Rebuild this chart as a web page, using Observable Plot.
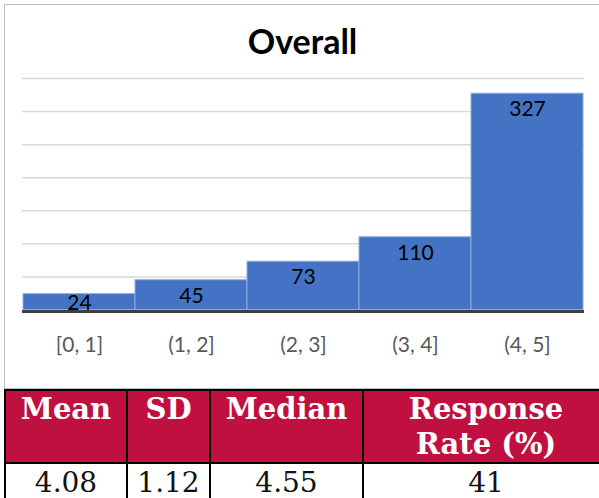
<!DOCTYPE html>
<html><head><meta charset="utf-8">
<script src="https://cdn.jsdelivr.net/npm/d3@7"></script>
<script src="https://cdn.jsdelivr.net/npm/@observablehq/plot@0.6"></script>
<style>
html,body{margin:0;padding:0;background:#fff;overflow:hidden;width:599px;height:498px;position:relative;}
#box{position:absolute;left:4px;top:4px;width:700px;height:383px;border:1px solid #bfbfbf;border-right:none;}
#title{position:absolute;left:0;width:605px;top:24px;text-align:center;font:bold 34px/34px Lato, "Open Sans", sans-serif;color:#000;}
#chart{position:absolute;left:0;top:0;}
#stats{position:absolute;left:4px;top:389px;border-collapse:collapse;table-layout:fixed;width:604px;font-family:Georgia,"DejaVu Serif",serif;}
#stats td{border:2px solid #000;text-align:center;padding:0;}
#stats tr.h td{background:#C0103F;color:#fff;font-weight:bold;font-size:29px;line-height:35px;height:70px;vertical-align:top;white-space:pre-line;padding-top:1px;}
#stats tr.v td{background:#fff;color:#111;font-size:28px;line-height:32px;height:40px;vertical-align:top;padding-top:3px;}
</style>
</head><body>
<div id="box"></div>
<div id="chart"></div>
<div id="title">Overall</div>
<table id="stats"><colgroup><col style="width:122px"><col style="width:83px"><col style="width:153px"><col style="width:246px"></colgroup>
<tbody><tr class="h" id="hrow"></tr><tr class="v" id="vrow"></tr></tbody></table>
<script>
const bins = ["[0, 1]", "(1, 2]", "(2, 3]", "(3, 4]", "(4, 5]"];
const counts = [24, 45, 73, 110, 327];
const gridTicks = [50, 100, 150, 200, 250, 300, 350];
const statLabels = ["Mean", "SD", "Median", "Response\nRate (%)"];
const statValues = ["4.08", "1.12", "4.55", "41"];

const data = bins.map((b, i) => ({bin: b, count: counts[i]}));

const chart = Plot.plot({
  width: 599,
  height: 388,
  marginLeft: 22,
  marginRight: 15,
  marginTop: 78,
  marginBottom: 78.5,
  style: {fontFamily: "Lato, 'Open Sans', sans-serif", fontSize: "21px", color: "#595959", background: "transparent"},
  x: {domain: bins, padding: 0, label: null, tickSize: 0, tickPadding: 27},
  y: {domain: [0, 350], axis: null},
  marks: [
    Plot.gridY(gridTicks, {stroke: "#d9d9d9", strokeOpacity: 1, strokeWidth: 1.5}),
    Plot.barY(data, {x: "bin", y: "count", fill: "#4472C4", stroke: "#8faadc", strokeWidth: 1}),
    Plot.ruleY([0], {stroke: "#404040", strokeWidth: 3, dy: 1.5}),
    Plot.text(data.filter(d => d.count >= 40), {x: "bin", y: "count", text: d => String(d.count), dy: 16, fontSize: 21, fill: "#000", lineAnchor: "middle"}),
    Plot.text(data.filter(d => d.count < 40), {x: "bin", y: 0, text: d => String(d.count), dy: -7, fontSize: 21, fill: "#000", lineAnchor: "middle"})
  ]
});
document.getElementById("chart").appendChild(chart);

const hrow = document.getElementById("hrow");
statLabels.forEach(t => { const td = document.createElement("td"); td.textContent = t; hrow.appendChild(td); });
const vrow = document.getElementById("vrow");
statValues.forEach(t => { const td = document.createElement("td"); td.textContent = t; vrow.appendChild(td); });
</script>
</body></html>
